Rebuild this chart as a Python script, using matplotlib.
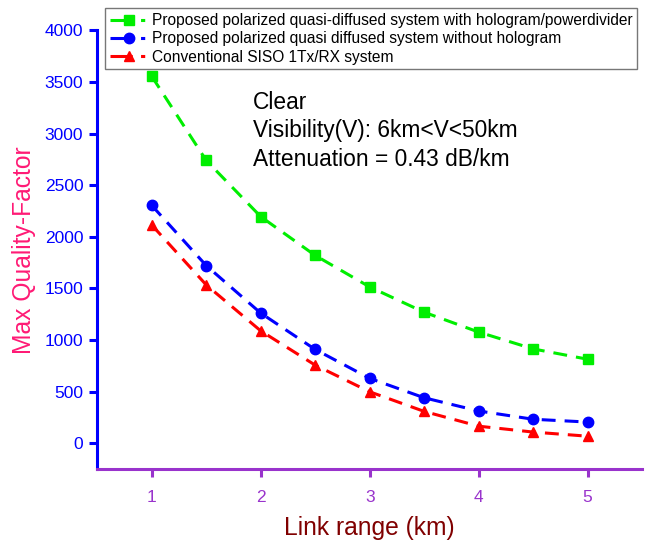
import matplotlib
matplotlib.use("Agg")
import matplotlib.pyplot as plt
from matplotlib.lines import Line2D

plt.rcParams['font.family'] = ['Liberation Sans', 'DejaVu Sans']
plt.rcParams['lines.scale_dashes'] = False

link_range = [1, 1.5, 2, 2.5, 3, 3.5, 4, 4.5, 5]
with_hologram = [3555, 2740, 2196, 1820, 1515, 1270, 1078, 915, 815]
without_hologram = [2305, 1722, 1262, 910, 630, 442, 314, 234, 207]
conventional = [2115, 1535, 1090, 758, 500, 310, 167, 110, 70]

labels = ["Proposed polarized quasi-diffused system with hologram/powerdivider",
          "Proposed polarized quasi diffused system without hologram",
          "Conventional SISO 1Tx/RX system"]
colors = ["#00ee00", "#0000ff", "#ff0000"]
markers = ["s", "o", "^"]
series = [with_hologram, without_hologram, conventional]

fig = plt.figure(figsize=(6.48, 5.4), dpi=100)
ax = fig.add_axes([0.150, 0.131, 0.841, 0.813])

for y, c, m in zip(series, colors, markers):
    ax.plot(link_range, y, color=c, marker=m, markersize=7.5 if m != 's' else 6.5,
            linewidth=2.2, dashes=(10, 6.5))

handles = [Line2D([], [], color=c, marker=m, markersize=7.5 if m != 's' else 6.5,
                  linewidth=2.2, dashes=(16, 6, 3, 20))
           for c, m in zip(colors, markers)]
leg = ax.legend(handles, labels, loc='upper left', bbox_to_anchor=(0.0147, 1.05),
                fontsize=11.2, handlelength=2.4, handletextpad=0.3,
                borderpad=0.3, labelspacing=0.22, frameon=True, fancybox=False,
                borderaxespad=0)
leg.get_frame().set_edgecolor('#555555')
leg.get_frame().set_linewidth(1.0)

ax.text(0.286, 0.862, "Clear\nVisibility(V): 6km<V<50km\nAttenuation = 0.43 dB/km",
        transform=ax.transAxes, fontsize=16.4, va='top', ha='left', linespacing=1.3)

ax.set_xlim(0.5, 5.5)
ax.set_ylim(-250, 4000)
ax.set_xticks([1, 2, 3, 4, 5])
ax.set_yticks([0, 500, 1000, 1500, 2000, 2500, 3000, 3500, 4000])

for s in ['top', 'right']:
    ax.spines[s].set_visible(False)
ax.spines['left'].set_color('#0000ff')
ax.spines['left'].set_linewidth(2.2)
ax.spines['bottom'].set_color('#9933cc')
ax.spines['bottom'].set_linewidth(2.2)

ax.tick_params(axis='y', colors='#0000ff', labelsize=12.5, width=2.2, length=6, direction='out', pad=4)
ax.tick_params(axis='x', colors='#9933cc', labelsize=12.5, width=2.2, length=6, direction='out', pad=9)

ax.set_ylabel("Max Quality-Factor", color='#ff1a75', fontsize=17.7, labelpad=6)
ax.set_xlabel("Link range (km)", color='#800000', fontsize=17.7, labelpad=8)

fig.savefig("out.png", dpi=100)
